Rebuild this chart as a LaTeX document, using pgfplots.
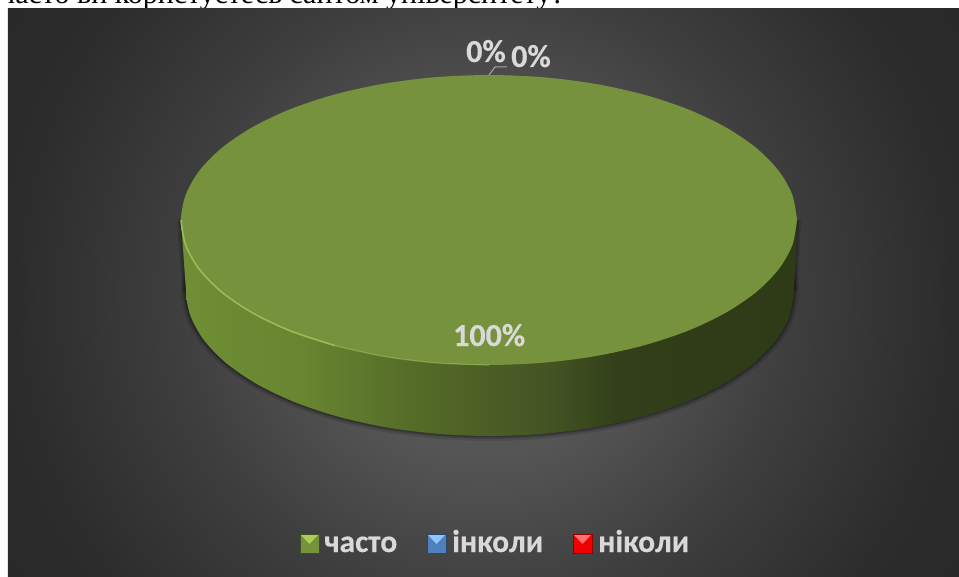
\documentclass[border=0pt]{standalone}
\usepackage{fontspec}
\setmainfont{Carlito}[BoldFeatures={FakeBold=0.4}]
\newfontfamily\headfont{Liberation Serif}
\usepackage{pgfplots}
\pgfplotsset{compat=1.18}
\usepackage{pgfplotstable}

\definecolor{topface}{HTML}{76923C}
\definecolor{rim}{HTML}{9BBB59}
\definecolor{labeltext}{HTML}{D9D9D9}
\definecolor{leader}{HTML}{A6A6A6}
\definecolor{leggreentop}{HTML}{A9CE5E}
\definecolor{legblue}{HTML}{4F81BD}
\definecolor{legbluetop}{HTML}{8FC6FF}
\definecolor{legred}{HTML}{F00000}
\definecolor{legredtop}{HTML}{FF7070}

% background: round glow behind the pie
\definecolor{ga}{HTML}{5C5C5C}\definecolor{gb}{HTML}{555555}
\definecolor{gc}{HTML}{484848}\definecolor{gd}{HTML}{3E3E3E}
\definecolor{ge}{HTML}{2C2C2C}\definecolor{gf}{HTML}{292929}
\pgfdeclareradialshading{panelglow}{\pgfpointorigin}{
  color(0bp)=(ga); color(8.4bp)=(gb); color(12.9bp)=(gc); color(16.3bp)=(gd);
  color(24.7bp)=(ge); color(29.4bp)=(gf); color(50bp)=(gf)}
% side wall, left to right
\definecolor{wa}{HTML}{6F8E35}\definecolor{wb}{HTML}{688530}
\definecolor{wc}{HTML}{566E29}\definecolor{wd}{HTML}{4C5F25}
\definecolor{we}{HTML}{435424}\definecolor{wf}{HTML}{323F19}
\definecolor{wg}{HTML}{2F3A16}
\pgfdeclarehorizontalshading{sidewall}{100bp}{
  color(0bp)=(wa); color(25bp)=(wa); color(34.7bp)=(wb); color(42.8bp)=(wc);
  color(49.3bp)=(wd); color(55bp)=(we); color(60.6bp)=(wf);
  color(75bp)=(wg); color(100bp)=(wg)}

% upper face of the disc, pixel coordinates
\pgfplotstableread{
x y
797 220
792.3 245.2
778.4 269.6
755.7 292.5
724.9 313.2
687 331.1
643 345.6
594.3 356.3
542.5 362.8
489 365
435.5 362.8
383.7 356.3
335 345.6
291 331.1
253.1 313.2
222.3 292.5
199.6 269.6
185.7 245.2
181 220
185.7 194.8
199.6 170.4
222.3 147.5
253.1 126.8
291 108.9
335 94.4
383.7 83.7
435.5 77.2
489 75
542.5 77.2
594.3 83.7
643 94.4
687 108.9
724.9 126.8
755.7 147.5
778.4 170.4
792.3 194.8
797 220
}\topellipse

% lower edge of the disc
\pgfplotstableread{
x y
794 291
789.4 316.2
775.7 340.6
753.3 363.5
722.9 384.2
685.4 402.1
642 416.6
594 427.3
542.8 433.8
490 436
437.2 433.8
386 427.3
338 416.6
294.6 402.1
257.1 384.2
226.7 363.5
204.3 340.6
190.6 316.2
186 291
190.6 265.8
204.3 241.4
226.7 218.5
257.1 197.8
294.6 179.9
338 165.4
386 154.7
437.2 148.2
490 146
542.8 148.2
594 154.7
642 165.4
685.4 179.9
722.9 197.8
753.3 218.5
775.7 241.4
789.4 265.8
794 291
}\lowellipse

% straight sides of the wall
\pgfplotstableread{
x y
181 220
186 291
}\leftside
\pgfplotstableread{
x y
797 220
794 291
}\rightside

\begin{document}
\begin{tikzpicture}
\fill[white] (0pt,0pt) rectangle (959pt,577pt);
\path[use as bounding box,clip] (0pt,0pt) rectangle (959pt,577pt);
\node[anchor=base west,inner sep=0pt,text=black] at (0pt,573pt)
  {\headfont\fontsize{30}{36}\selectfont часто ви користуєтесь сайтом університету?};
\begin{axis}[
    at={(8pt,0pt)}, anchor=south west,
    scale only axis, width=951pt, height=568pt,
    xmin=8, xmax=959, ymin=9, ymax=577,
    y dir=reverse,
    hide axis,
    clip=true,
]
% panel
\addplot[shading=panelglow, draw=none] coordinates {(8,-180.5) (959,-180.5) (959,770.5) (8,770.5) (8,-180.5)};

% soft shadow round the wall
\addplot[smooth, draw=black, opacity=0.10, line width=10pt] table {\lowellipse};
\addplot[smooth, draw=black, opacity=0.14, line width=6pt] table {\lowellipse};
\addplot[smooth, draw=black, opacity=0.20, line width=3pt] table {\lowellipse};
\addplot[draw=black, opacity=0.12, line width=8pt] table {\leftside};
\addplot[draw=black, opacity=0.18, line width=4pt] table {\leftside};
\addplot[draw=black, opacity=0.12, line width=8pt] table {\rightside};
\addplot[draw=black, opacity=0.18, line width=4pt] table {\rightside};
% wall
\addplot[shading=sidewall, draw=none] coordinates {(181,220) (797,220) (794,291) (186,291) (181,220)};
\addplot[smooth, shading=sidewall, draw=none] table {\lowellipse};
% upper face
\addplot[smooth, fill=topface, draw=none] table {\topellipse};
% light edge, lower left
\addplot[smooth, draw=rim, line width=1.6pt] coordinates {(181,220) (185.7,245.2) (199.6,269.6) (222.3,292.5) (253.1,313.2) (291,331.1) (335,345.6)};
\addplot[smooth, draw=rim, opacity=0.6, line width=1.2pt] coordinates {(335,345.6) (383.7,356.3) (435.5,362.8) (489,365)};

% leader line of the first 0%
\addplot[draw=leader, line width=1pt] coordinates {(489,75) (495,67) (507,67)};

% legend boxes
\addplot[fill=topface, draw=topface!55!black, line width=0.8pt] coordinates {(300,534) (319,534) (319,553) (300,553) (300,534)};
\addplot[fill=leggreentop, draw=none] coordinates {(301,535) (318,535) (309.5,544) (301,535)};
\addplot[fill=legblue, draw=legblue!55!black, line width=0.8pt] coordinates {(427,534) (446,534) (446,553) (427,553) (427,534)};
\addplot[fill=legbluetop, draw=none] coordinates {(428,535) (445,535) (436.5,544) (428,535)};
\addplot[fill=legred, draw=legred!60!black, line width=0.8pt] coordinates {(573,534) (592,534) (592,553) (573,553) (573,534)};
\addplot[fill=legredtop, draw=none] coordinates {(574,535) (591,535) (582.5,544) (574,535)};

% data labels
\node[anchor=base west,inner sep=0pt,text=labeltext,font=\bfseries\fontsize{32}{38}\selectfont] at (axis cs:466,62) {0\%};
\node[anchor=base west,inner sep=0pt,text=labeltext,font=\bfseries\fontsize{32}{38}\selectfont] at (axis cs:511,67) {0\%};
\node[anchor=base west,inner sep=0pt,text=labeltext,font=\bfseries\fontsize{32}{38}\selectfont] at (axis cs:453,346) {100\%};
% legend labels
\node[anchor=base west,inner sep=0pt,text=labeltext,font=\bfseries\fontsize{31.5}{38}\selectfont] at (axis cs:324,552) {часто};
\node[anchor=base west,inner sep=0pt,text=labeltext,font=\bfseries\fontsize{31.5}{38}\selectfont] at (axis cs:452,552) {інколи};
\node[anchor=base west,inner sep=0pt,text=labeltext,font=\bfseries\fontsize{31.5}{38}\selectfont] at (axis cs:598,552) {ніколи};
\end{axis}
\end{tikzpicture}
\end{document}
